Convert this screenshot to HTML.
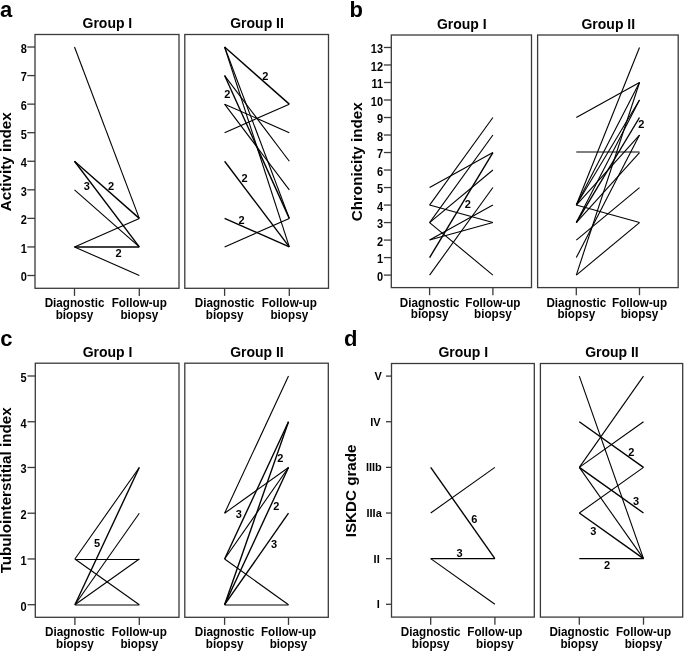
<!DOCTYPE html>
<html><head><meta charset="utf-8"><style>
html,body{margin:0;padding:0;background:#fff;overflow:hidden;}
svg{display:block;will-change:transform;}
text{font-family:"Liberation Sans", sans-serif;font-weight:bold;fill:#000;}
</style></head><body>
<svg width="685" height="652" viewBox="0 0 685 652">
<rect width="685" height="652" fill="#fff"/>
<text x="0.00" y="16.70" font-size="22" text-anchor="start" >a</text>
<text x="0" y="0" font-size="15.2" text-anchor="middle" transform="translate(11.30,161.80) rotate(-90)">Activity index</text>
<rect x="35.00" y="34.50" width="144.00" height="253.80" fill="none" stroke="#3a3a3a" stroke-width="1.3"/>
<text x="0" y="0" font-size="14" text-anchor="middle" transform="translate(107.40,28.20) scale(1,1.07)" >Group I</text>
<line x1="74.50" y1="288.30" x2="74.50" y2="295.90" stroke="#3a3a3a" stroke-width="1.3"/>
<line x1="139.30" y1="288.30" x2="139.30" y2="295.90" stroke="#3a3a3a" stroke-width="1.3"/>
<text x="0" y="0" font-size="11.7" text-anchor="middle" transform="translate(74.50,307.20) scale(1,1.05)" >Diagnostic</text>
<text x="0" y="0" font-size="11.7" text-anchor="middle" transform="translate(74.50,319.10) scale(1,1.05)" >biopsy</text>
<text x="0" y="0" font-size="11.7" text-anchor="middle" transform="translate(139.30,307.20) scale(1,1.05)" >Follow-up</text>
<text x="0" y="0" font-size="11.7" text-anchor="middle" transform="translate(139.30,319.10) scale(1,1.05)" >biopsy</text>
<line x1="74.50" y1="47.02" x2="139.30" y2="218.38" stroke="#000" stroke-width="1.1"/>
<line x1="74.50" y1="161.26" x2="139.30" y2="218.38" stroke="#000" stroke-width="1.38"/>
<line x1="74.50" y1="161.26" x2="139.30" y2="246.94" stroke="#000" stroke-width="1.38"/>
<line x1="74.50" y1="189.82" x2="139.30" y2="246.94" stroke="#000" stroke-width="1.1"/>
<line x1="74.50" y1="246.94" x2="139.30" y2="218.38" stroke="#000" stroke-width="1.1"/>
<line x1="74.50" y1="246.94" x2="139.30" y2="246.94" stroke="#000" stroke-width="1.38"/>
<line x1="74.50" y1="246.94" x2="139.30" y2="275.50" stroke="#000" stroke-width="1.1"/>
<text x="86.90" y="190.00" font-size="11" text-anchor="middle" >3</text>
<text x="111.00" y="189.50" font-size="11" text-anchor="middle" >2</text>
<text x="118.60" y="257.20" font-size="11" text-anchor="middle" >2</text>
<rect x="184.80" y="34.50" width="143.70" height="253.80" fill="none" stroke="#3a3a3a" stroke-width="1.3"/>
<text x="0" y="0" font-size="14" text-anchor="middle" transform="translate(257.05,28.20) scale(1,1.07)" >Group II</text>
<line x1="224.60" y1="288.30" x2="224.60" y2="295.90" stroke="#3a3a3a" stroke-width="1.3"/>
<line x1="289.30" y1="288.30" x2="289.30" y2="295.90" stroke="#3a3a3a" stroke-width="1.3"/>
<text x="0" y="0" font-size="11.7" text-anchor="middle" transform="translate(224.60,307.20) scale(1,1.05)" >Diagnostic</text>
<text x="0" y="0" font-size="11.7" text-anchor="middle" transform="translate(224.60,319.10) scale(1,1.05)" >biopsy</text>
<text x="0" y="0" font-size="11.7" text-anchor="middle" transform="translate(289.30,307.20) scale(1,1.05)" >Follow-up</text>
<text x="0" y="0" font-size="11.7" text-anchor="middle" transform="translate(289.30,319.10) scale(1,1.05)" >biopsy</text>
<line x1="224.60" y1="47.02" x2="289.30" y2="104.14" stroke="#000" stroke-width="1.38"/>
<line x1="224.60" y1="47.02" x2="289.30" y2="218.38" stroke="#000" stroke-width="1.1"/>
<line x1="224.60" y1="47.02" x2="289.30" y2="246.94" stroke="#000" stroke-width="1.1"/>
<line x1="224.60" y1="75.58" x2="289.30" y2="218.38" stroke="#000" stroke-width="1.38"/>
<line x1="224.60" y1="75.58" x2="289.30" y2="161.26" stroke="#000" stroke-width="1.1"/>
<line x1="224.60" y1="104.14" x2="289.30" y2="132.70" stroke="#000" stroke-width="1.1"/>
<line x1="224.60" y1="104.14" x2="289.30" y2="189.82" stroke="#000" stroke-width="1.1"/>
<line x1="224.60" y1="132.70" x2="289.30" y2="104.14" stroke="#000" stroke-width="1.1"/>
<line x1="224.60" y1="161.26" x2="289.30" y2="246.94" stroke="#000" stroke-width="1.38"/>
<line x1="224.60" y1="218.38" x2="289.30" y2="246.94" stroke="#000" stroke-width="1.38"/>
<line x1="224.60" y1="246.94" x2="289.30" y2="218.38" stroke="#000" stroke-width="1.1"/>
<text x="265.30" y="79.80" font-size="11" text-anchor="middle" >2</text>
<text x="227.20" y="97.90" font-size="11" text-anchor="middle" >2</text>
<text x="244.50" y="182.20" font-size="11" text-anchor="middle" >2</text>
<text x="241.50" y="224.00" font-size="11" text-anchor="middle" >2</text>
<line x1="27.30" y1="275.50" x2="35.00" y2="275.50" stroke="#3a3a3a" stroke-width="1.3"/>
<text x="0" y="0" font-size="11" text-anchor="end" transform="translate(26.90,281.40) scale(1,1.1)">0</text>
<line x1="27.30" y1="246.94" x2="35.00" y2="246.94" stroke="#3a3a3a" stroke-width="1.3"/>
<text x="0" y="0" font-size="11" text-anchor="end" transform="translate(26.90,252.84) scale(1,1.1)">1</text>
<line x1="27.30" y1="218.38" x2="35.00" y2="218.38" stroke="#3a3a3a" stroke-width="1.3"/>
<text x="0" y="0" font-size="11" text-anchor="end" transform="translate(26.90,224.28) scale(1,1.1)">2</text>
<line x1="27.30" y1="189.82" x2="35.00" y2="189.82" stroke="#3a3a3a" stroke-width="1.3"/>
<text x="0" y="0" font-size="11" text-anchor="end" transform="translate(26.90,195.72) scale(1,1.1)">3</text>
<line x1="27.30" y1="161.26" x2="35.00" y2="161.26" stroke="#3a3a3a" stroke-width="1.3"/>
<text x="0" y="0" font-size="11" text-anchor="end" transform="translate(26.90,167.16) scale(1,1.1)">4</text>
<line x1="27.30" y1="132.70" x2="35.00" y2="132.70" stroke="#3a3a3a" stroke-width="1.3"/>
<text x="0" y="0" font-size="11" text-anchor="end" transform="translate(26.90,138.60) scale(1,1.1)">5</text>
<line x1="27.30" y1="104.14" x2="35.00" y2="104.14" stroke="#3a3a3a" stroke-width="1.3"/>
<text x="0" y="0" font-size="11" text-anchor="end" transform="translate(26.90,110.04) scale(1,1.1)">6</text>
<line x1="27.30" y1="75.58" x2="35.00" y2="75.58" stroke="#3a3a3a" stroke-width="1.3"/>
<text x="0" y="0" font-size="11" text-anchor="end" transform="translate(26.90,81.48) scale(1,1.1)">7</text>
<line x1="27.30" y1="47.02" x2="35.00" y2="47.02" stroke="#3a3a3a" stroke-width="1.3"/>
<text x="0" y="0" font-size="11" text-anchor="end" transform="translate(26.90,52.92) scale(1,1.1)">8</text>
<text x="349.50" y="16.60" font-size="22" text-anchor="start" >b</text>
<text x="0" y="0" font-size="15.2" text-anchor="middle" transform="translate(361.80,161.80) rotate(-90)">Chronicity index</text>
<rect x="391.30" y="35.00" width="140.20" height="252.60" fill="none" stroke="#3a3a3a" stroke-width="1.3"/>
<text x="0" y="0" font-size="14" text-anchor="middle" transform="translate(461.80,28.70) scale(1,1.07)" >Group I</text>
<line x1="429.60" y1="287.60" x2="429.60" y2="295.20" stroke="#3a3a3a" stroke-width="1.3"/>
<line x1="492.90" y1="287.60" x2="492.90" y2="295.20" stroke="#3a3a3a" stroke-width="1.3"/>
<text x="0" y="0" font-size="11.7" text-anchor="middle" transform="translate(429.60,306.50) scale(1,1.05)" >Diagnostic</text>
<text x="0" y="0" font-size="11.7" text-anchor="middle" transform="translate(429.60,318.40) scale(1,1.05)" >biopsy</text>
<text x="0" y="0" font-size="11.7" text-anchor="middle" transform="translate(492.90,306.50) scale(1,1.05)" >Follow-up</text>
<text x="0" y="0" font-size="11.7" text-anchor="middle" transform="translate(492.90,318.40) scale(1,1.05)" >biopsy</text>
<line x1="429.60" y1="187.55" x2="492.90" y2="152.53" stroke="#000" stroke-width="1.1"/>
<line x1="429.60" y1="205.06" x2="492.90" y2="117.51" stroke="#000" stroke-width="1.1"/>
<line x1="429.60" y1="205.06" x2="492.90" y2="222.57" stroke="#000" stroke-width="1.1"/>
<line x1="429.60" y1="222.57" x2="492.90" y2="135.02" stroke="#000" stroke-width="1.1"/>
<line x1="429.60" y1="222.57" x2="492.90" y2="170.04" stroke="#000" stroke-width="1.1"/>
<line x1="429.60" y1="222.57" x2="492.90" y2="275.10" stroke="#000" stroke-width="1.1"/>
<line x1="429.60" y1="240.08" x2="492.90" y2="205.06" stroke="#000" stroke-width="1.1"/>
<line x1="429.60" y1="240.08" x2="492.90" y2="222.57" stroke="#000" stroke-width="1.1"/>
<line x1="429.60" y1="257.59" x2="492.90" y2="152.53" stroke="#000" stroke-width="1.38"/>
<line x1="429.60" y1="275.10" x2="492.90" y2="187.55" stroke="#000" stroke-width="1.1"/>
<text x="467.80" y="208.10" font-size="11" text-anchor="middle" >2</text>
<rect x="537.60" y="35.00" width="140.60" height="252.60" fill="none" stroke="#3a3a3a" stroke-width="1.3"/>
<text x="0" y="0" font-size="14" text-anchor="middle" transform="translate(608.30,28.70) scale(1,1.07)" >Group II</text>
<line x1="576.30" y1="287.60" x2="576.30" y2="295.20" stroke="#3a3a3a" stroke-width="1.3"/>
<line x1="639.50" y1="287.60" x2="639.50" y2="295.20" stroke="#3a3a3a" stroke-width="1.3"/>
<text x="0" y="0" font-size="11.7" text-anchor="middle" transform="translate(576.30,306.50) scale(1,1.05)" >Diagnostic</text>
<text x="0" y="0" font-size="11.7" text-anchor="middle" transform="translate(576.30,318.40) scale(1,1.05)" >biopsy</text>
<text x="0" y="0" font-size="11.7" text-anchor="middle" transform="translate(639.50,306.50) scale(1,1.05)" >Follow-up</text>
<text x="0" y="0" font-size="11.7" text-anchor="middle" transform="translate(639.50,318.40) scale(1,1.05)" >biopsy</text>
<line x1="576.30" y1="117.51" x2="639.50" y2="82.49" stroke="#000" stroke-width="1.1"/>
<line x1="576.30" y1="152.00" x2="639.50" y2="152.00" stroke="#000" stroke-width="1.1"/>
<line x1="576.30" y1="205.06" x2="639.50" y2="47.47" stroke="#000" stroke-width="1.1"/>
<line x1="576.30" y1="205.06" x2="639.50" y2="82.49" stroke="#000" stroke-width="1.1"/>
<line x1="576.30" y1="205.06" x2="639.50" y2="100.00" stroke="#000" stroke-width="1.1"/>
<line x1="576.30" y1="205.06" x2="639.50" y2="135.02" stroke="#000" stroke-width="1.1"/>
<line x1="576.30" y1="205.06" x2="639.50" y2="222.57" stroke="#000" stroke-width="1.1"/>
<line x1="576.30" y1="222.57" x2="639.50" y2="117.51" stroke="#000" stroke-width="1.38"/>
<line x1="576.30" y1="222.57" x2="639.50" y2="100.00" stroke="#000" stroke-width="1.1"/>
<line x1="576.30" y1="222.57" x2="639.50" y2="152.53" stroke="#000" stroke-width="1.1"/>
<line x1="576.30" y1="240.08" x2="639.50" y2="187.55" stroke="#000" stroke-width="1.1"/>
<line x1="576.30" y1="257.59" x2="639.50" y2="135.02" stroke="#000" stroke-width="1.1"/>
<line x1="576.30" y1="275.10" x2="639.50" y2="82.49" stroke="#000" stroke-width="1.1"/>
<line x1="576.30" y1="275.10" x2="639.50" y2="222.57" stroke="#000" stroke-width="1.1"/>
<text x="641.40" y="128.30" font-size="11" text-anchor="middle" >2</text>
<line x1="383.90" y1="275.10" x2="391.30" y2="275.10" stroke="#3a3a3a" stroke-width="1.3"/>
<text x="0" y="0" font-size="11" text-anchor="end" transform="translate(383.00,281.00) scale(1,1.1)">0</text>
<line x1="383.90" y1="257.59" x2="391.30" y2="257.59" stroke="#3a3a3a" stroke-width="1.3"/>
<text x="0" y="0" font-size="11" text-anchor="end" transform="translate(383.00,263.49) scale(1,1.1)">1</text>
<line x1="383.90" y1="240.08" x2="391.30" y2="240.08" stroke="#3a3a3a" stroke-width="1.3"/>
<text x="0" y="0" font-size="11" text-anchor="end" transform="translate(383.00,245.98) scale(1,1.1)">2</text>
<line x1="383.90" y1="222.57" x2="391.30" y2="222.57" stroke="#3a3a3a" stroke-width="1.3"/>
<text x="0" y="0" font-size="11" text-anchor="end" transform="translate(383.00,228.47) scale(1,1.1)">3</text>
<line x1="383.90" y1="205.06" x2="391.30" y2="205.06" stroke="#3a3a3a" stroke-width="1.3"/>
<text x="0" y="0" font-size="11" text-anchor="end" transform="translate(383.00,210.96) scale(1,1.1)">4</text>
<line x1="383.90" y1="187.55" x2="391.30" y2="187.55" stroke="#3a3a3a" stroke-width="1.3"/>
<text x="0" y="0" font-size="11" text-anchor="end" transform="translate(383.00,193.45) scale(1,1.1)">5</text>
<line x1="383.90" y1="170.04" x2="391.30" y2="170.04" stroke="#3a3a3a" stroke-width="1.3"/>
<text x="0" y="0" font-size="11" text-anchor="end" transform="translate(383.00,175.94) scale(1,1.1)">6</text>
<line x1="383.90" y1="152.53" x2="391.30" y2="152.53" stroke="#3a3a3a" stroke-width="1.3"/>
<text x="0" y="0" font-size="11" text-anchor="end" transform="translate(383.00,158.43) scale(1,1.1)">7</text>
<line x1="383.90" y1="135.02" x2="391.30" y2="135.02" stroke="#3a3a3a" stroke-width="1.3"/>
<text x="0" y="0" font-size="11" text-anchor="end" transform="translate(383.00,140.92) scale(1,1.1)">8</text>
<line x1="383.90" y1="117.51" x2="391.30" y2="117.51" stroke="#3a3a3a" stroke-width="1.3"/>
<text x="0" y="0" font-size="11" text-anchor="end" transform="translate(383.00,123.41) scale(1,1.1)">9</text>
<line x1="383.90" y1="100.00" x2="391.30" y2="100.00" stroke="#3a3a3a" stroke-width="1.3"/>
<text x="0" y="0" font-size="11" text-anchor="end" transform="translate(383.00,105.90) scale(1,1.1)">10</text>
<line x1="383.90" y1="82.49" x2="391.30" y2="82.49" stroke="#3a3a3a" stroke-width="1.3"/>
<text x="0" y="0" font-size="11" text-anchor="end" transform="translate(383.00,88.39) scale(1,1.1)">11</text>
<line x1="383.90" y1="64.98" x2="391.30" y2="64.98" stroke="#3a3a3a" stroke-width="1.3"/>
<text x="0" y="0" font-size="11" text-anchor="end" transform="translate(383.00,70.88) scale(1,1.1)">12</text>
<line x1="383.90" y1="47.47" x2="391.30" y2="47.47" stroke="#3a3a3a" stroke-width="1.3"/>
<text x="0" y="0" font-size="11" text-anchor="end" transform="translate(383.00,53.37) scale(1,1.1)">13</text>
<text x="0.30" y="346.00" font-size="22" text-anchor="start" >c</text>
<text x="0" y="0" font-size="15.2" text-anchor="middle" transform="translate(11.40,490.40) rotate(-90)">Tubulointerstitial index</text>
<rect x="35.30" y="363.20" width="143.70" height="254.10" fill="none" stroke="#3a3a3a" stroke-width="1.3"/>
<text x="0" y="0" font-size="14" text-anchor="middle" transform="translate(107.55,356.90) scale(1,1.07)" >Group I</text>
<line x1="74.90" y1="617.30" x2="74.90" y2="624.90" stroke="#3a3a3a" stroke-width="1.3"/>
<line x1="139.30" y1="617.30" x2="139.30" y2="624.90" stroke="#3a3a3a" stroke-width="1.3"/>
<text x="0" y="0" font-size="11.7" text-anchor="middle" transform="translate(74.90,636.20) scale(1,1.05)" >Diagnostic</text>
<text x="0" y="0" font-size="11.7" text-anchor="middle" transform="translate(74.90,648.10) scale(1,1.05)" >biopsy</text>
<text x="0" y="0" font-size="11.7" text-anchor="middle" transform="translate(139.30,636.20) scale(1,1.05)" >Follow-up</text>
<text x="0" y="0" font-size="11.7" text-anchor="middle" transform="translate(139.30,648.10) scale(1,1.05)" >biopsy</text>
<line x1="74.90" y1="558.96" x2="139.30" y2="467.48" stroke="#000" stroke-width="1.1"/>
<line x1="74.90" y1="559.50" x2="139.30" y2="559.50" stroke="#000" stroke-width="1.1"/>
<line x1="74.90" y1="558.96" x2="139.30" y2="604.70" stroke="#000" stroke-width="1.1"/>
<line x1="74.90" y1="604.70" x2="139.30" y2="467.48" stroke="#000" stroke-width="1.38"/>
<line x1="74.90" y1="604.70" x2="139.30" y2="513.22" stroke="#000" stroke-width="1.1"/>
<line x1="74.90" y1="604.70" x2="139.30" y2="558.96" stroke="#000" stroke-width="1.1"/>
<line x1="74.90" y1="605.00" x2="139.30" y2="605.00" stroke="#000" stroke-width="1.1"/>
<text x="97.10" y="547.20" font-size="11" text-anchor="middle" >5</text>
<rect x="184.80" y="363.20" width="143.50" height="254.10" fill="none" stroke="#3a3a3a" stroke-width="1.3"/>
<text x="0" y="0" font-size="14" text-anchor="middle" transform="translate(256.95,356.90) scale(1,1.07)" >Group II</text>
<line x1="224.60" y1="617.30" x2="224.60" y2="624.90" stroke="#3a3a3a" stroke-width="1.3"/>
<line x1="288.50" y1="617.30" x2="288.50" y2="624.90" stroke="#3a3a3a" stroke-width="1.3"/>
<text x="0" y="0" font-size="11.7" text-anchor="middle" transform="translate(224.60,636.20) scale(1,1.05)" >Diagnostic</text>
<text x="0" y="0" font-size="11.7" text-anchor="middle" transform="translate(224.60,648.10) scale(1,1.05)" >biopsy</text>
<text x="0" y="0" font-size="11.7" text-anchor="middle" transform="translate(288.50,636.20) scale(1,1.05)" >Follow-up</text>
<text x="0" y="0" font-size="11.7" text-anchor="middle" transform="translate(288.50,648.10) scale(1,1.05)" >biopsy</text>
<line x1="224.60" y1="513.22" x2="288.50" y2="376.00" stroke="#000" stroke-width="1.1"/>
<line x1="224.60" y1="513.22" x2="288.50" y2="467.48" stroke="#000" stroke-width="1.1"/>
<line x1="224.60" y1="558.96" x2="288.50" y2="421.74" stroke="#000" stroke-width="1.38"/>
<line x1="224.60" y1="558.96" x2="288.50" y2="467.48" stroke="#000" stroke-width="1.1"/>
<line x1="224.60" y1="558.96" x2="288.50" y2="604.70" stroke="#000" stroke-width="1.1"/>
<line x1="224.60" y1="604.70" x2="288.50" y2="421.74" stroke="#000" stroke-width="1.38"/>
<line x1="224.60" y1="604.70" x2="288.50" y2="467.48" stroke="#000" stroke-width="1.38"/>
<line x1="224.60" y1="604.70" x2="288.50" y2="513.22" stroke="#000" stroke-width="1.38"/>
<line x1="224.60" y1="605.00" x2="288.50" y2="605.00" stroke="#000" stroke-width="1.1"/>
<text x="238.90" y="518.20" font-size="11" text-anchor="middle" >3</text>
<text x="280.30" y="462.10" font-size="11" text-anchor="middle" >2</text>
<text x="276.30" y="509.60" font-size="11" text-anchor="middle" >2</text>
<text x="274.10" y="547.90" font-size="11" text-anchor="middle" >3</text>
<line x1="27.50" y1="604.70" x2="35.30" y2="604.70" stroke="#3a3a3a" stroke-width="1.3"/>
<text x="0" y="0" font-size="11" text-anchor="end" transform="translate(26.70,610.60) scale(1,1.1)">0</text>
<line x1="27.50" y1="558.96" x2="35.30" y2="558.96" stroke="#3a3a3a" stroke-width="1.3"/>
<text x="0" y="0" font-size="11" text-anchor="end" transform="translate(26.70,564.86) scale(1,1.1)">1</text>
<line x1="27.50" y1="513.22" x2="35.30" y2="513.22" stroke="#3a3a3a" stroke-width="1.3"/>
<text x="0" y="0" font-size="11" text-anchor="end" transform="translate(26.70,519.12) scale(1,1.1)">2</text>
<line x1="27.50" y1="467.48" x2="35.30" y2="467.48" stroke="#3a3a3a" stroke-width="1.3"/>
<text x="0" y="0" font-size="11" text-anchor="end" transform="translate(26.70,473.38) scale(1,1.1)">3</text>
<line x1="27.50" y1="421.74" x2="35.30" y2="421.74" stroke="#3a3a3a" stroke-width="1.3"/>
<text x="0" y="0" font-size="11" text-anchor="end" transform="translate(26.70,427.64) scale(1,1.1)">4</text>
<line x1="27.50" y1="376.00" x2="35.30" y2="376.00" stroke="#3a3a3a" stroke-width="1.3"/>
<text x="0" y="0" font-size="11" text-anchor="end" transform="translate(26.70,381.90) scale(1,1.1)">5</text>
<text x="344.00" y="346.20" font-size="22" text-anchor="start" >d</text>
<text x="0" y="0" font-size="15.2" text-anchor="middle" transform="translate(355.60,490.90) rotate(-90)">ISKDC grade</text>
<rect x="391.50" y="363.50" width="142.80" height="253.60" fill="none" stroke="#3a3a3a" stroke-width="1.3"/>
<text x="0" y="0" font-size="14" text-anchor="middle" transform="translate(463.30,357.20) scale(1,1.07)" >Group I</text>
<line x1="430.70" y1="617.10" x2="430.70" y2="624.70" stroke="#3a3a3a" stroke-width="1.3"/>
<line x1="494.90" y1="617.10" x2="494.90" y2="624.70" stroke="#3a3a3a" stroke-width="1.3"/>
<text x="0" y="0" font-size="11.7" text-anchor="middle" transform="translate(430.70,636.00) scale(1,1.05)" >Diagnostic</text>
<text x="0" y="0" font-size="11.7" text-anchor="middle" transform="translate(430.70,647.90) scale(1,1.05)" >biopsy</text>
<text x="0" y="0" font-size="11.7" text-anchor="middle" transform="translate(494.90,636.00) scale(1,1.05)" >Follow-up</text>
<text x="0" y="0" font-size="11.7" text-anchor="middle" transform="translate(494.90,647.90) scale(1,1.05)" >biopsy</text>
<line x1="430.70" y1="467.38" x2="494.90" y2="558.66" stroke="#000" stroke-width="1.38"/>
<line x1="430.70" y1="513.02" x2="494.90" y2="467.38" stroke="#000" stroke-width="1.1"/>
<line x1="430.70" y1="558.66" x2="494.90" y2="558.66" stroke="#000" stroke-width="1.38"/>
<line x1="430.70" y1="558.66" x2="494.90" y2="604.30" stroke="#000" stroke-width="1.1"/>
<text x="474.20" y="522.90" font-size="11" text-anchor="middle" >6</text>
<text x="459.60" y="556.90" font-size="11" text-anchor="middle" >3</text>
<rect x="540.40" y="363.50" width="142.30" height="253.60" fill="none" stroke="#3a3a3a" stroke-width="1.3"/>
<text x="0" y="0" font-size="14" text-anchor="middle" transform="translate(611.95,357.20) scale(1,1.07)" >Group II</text>
<line x1="579.30" y1="617.10" x2="579.30" y2="624.70" stroke="#3a3a3a" stroke-width="1.3"/>
<line x1="643.50" y1="617.10" x2="643.50" y2="624.70" stroke="#3a3a3a" stroke-width="1.3"/>
<text x="0" y="0" font-size="11.7" text-anchor="middle" transform="translate(579.30,636.00) scale(1,1.05)" >Diagnostic</text>
<text x="0" y="0" font-size="11.7" text-anchor="middle" transform="translate(579.30,647.90) scale(1,1.05)" >biopsy</text>
<text x="0" y="0" font-size="11.7" text-anchor="middle" transform="translate(643.50,636.00) scale(1,1.05)" >Follow-up</text>
<text x="0" y="0" font-size="11.7" text-anchor="middle" transform="translate(643.50,647.90) scale(1,1.05)" >biopsy</text>
<line x1="579.30" y1="376.10" x2="643.50" y2="558.66" stroke="#000" stroke-width="1.1"/>
<line x1="579.30" y1="421.74" x2="643.50" y2="467.38" stroke="#000" stroke-width="1.38"/>
<line x1="579.30" y1="467.38" x2="643.50" y2="376.10" stroke="#000" stroke-width="1.1"/>
<line x1="579.30" y1="467.38" x2="643.50" y2="421.74" stroke="#000" stroke-width="1.1"/>
<line x1="579.30" y1="467.38" x2="643.50" y2="513.02" stroke="#000" stroke-width="1.38"/>
<line x1="579.30" y1="467.38" x2="643.50" y2="558.66" stroke="#000" stroke-width="1.1"/>
<line x1="579.30" y1="513.02" x2="643.50" y2="467.38" stroke="#000" stroke-width="1.1"/>
<line x1="579.30" y1="513.02" x2="643.50" y2="558.66" stroke="#000" stroke-width="1.38"/>
<line x1="579.30" y1="558.66" x2="643.50" y2="558.66" stroke="#000" stroke-width="1.38"/>
<text x="631.30" y="455.90" font-size="11" text-anchor="middle" >2</text>
<text x="636.10" y="504.90" font-size="11" text-anchor="middle" >3</text>
<text x="593.20" y="534.90" font-size="11" text-anchor="middle" >3</text>
<text x="607.10" y="569.40" font-size="11" text-anchor="middle" >2</text>
<line x1="386.00" y1="604.30" x2="391.50" y2="604.30" stroke="#3a3a3a" stroke-width="1.3"/>
<text x="0" y="0" font-size="11" text-anchor="end" transform="translate(379.80,608.20) scale(1,1.03)">I</text>
<line x1="386.00" y1="558.66" x2="391.50" y2="558.66" stroke="#3a3a3a" stroke-width="1.3"/>
<text x="0" y="0" font-size="11" text-anchor="end" transform="translate(379.70,562.56) scale(1,1.03)">II</text>
<line x1="386.00" y1="513.02" x2="391.50" y2="513.02" stroke="#3a3a3a" stroke-width="1.3"/>
<text x="0" y="0" font-size="11" text-anchor="end" transform="translate(381.80,516.92) scale(1,1.03)">IIIa</text>
<line x1="386.00" y1="467.38" x2="391.50" y2="467.38" stroke="#3a3a3a" stroke-width="1.3"/>
<text x="0" y="0" font-size="11" text-anchor="end" transform="translate(381.80,471.28) scale(1,1.03)">IIIb</text>
<line x1="386.00" y1="421.74" x2="391.50" y2="421.74" stroke="#3a3a3a" stroke-width="1.3"/>
<text x="0" y="0" font-size="11" text-anchor="end" transform="translate(380.60,425.64) scale(1,1.03)">IV</text>
<line x1="386.00" y1="376.10" x2="391.50" y2="376.10" stroke="#3a3a3a" stroke-width="1.3"/>
<text x="0" y="0" font-size="11" text-anchor="end" transform="translate(381.80,380.00) scale(1,1.03)">V</text>
</svg></body></html>
